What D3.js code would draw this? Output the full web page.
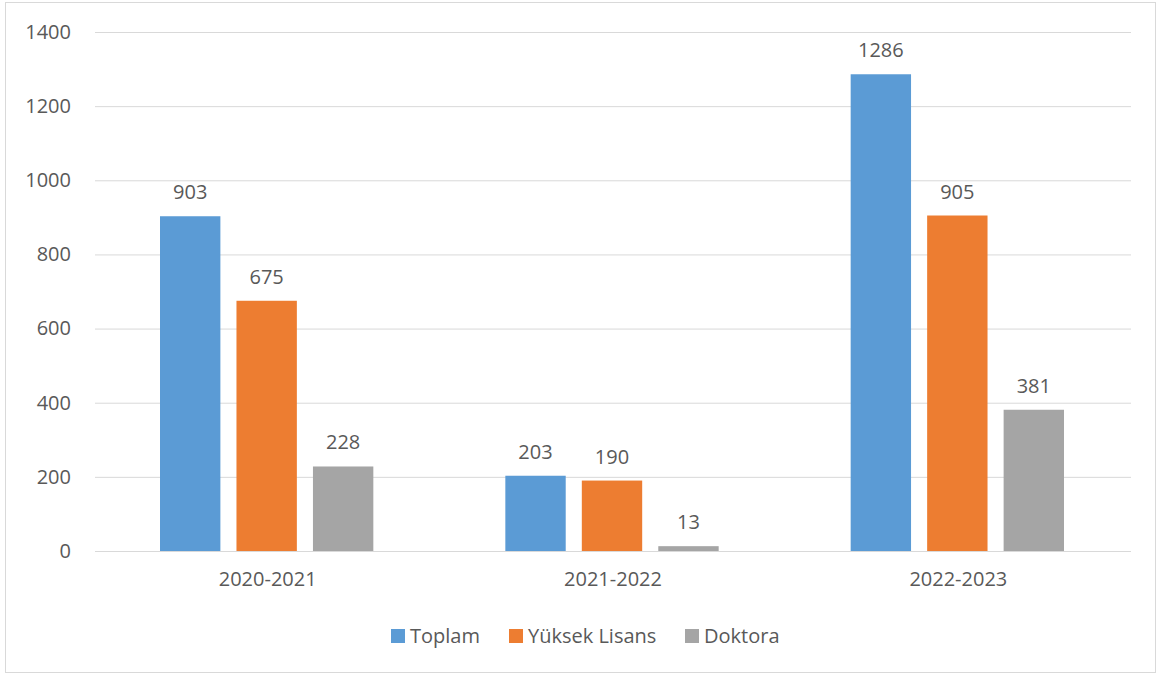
<!DOCTYPE html>
<html>
<head>
<meta charset="utf-8">
<script src="https://cdn.jsdelivr.net/npm/d3@7"></script>
<style>
  body { margin: 0; background: #fff; }
  svg text { font-family: "Open Sans", sans-serif; fill: #595959; }
</style>
</head>
<body>
<svg id="chart" width="1158" height="675"></svg>
<script>
// data
var years = ["2020-2021", "2021-2022", "2022-2023"];
var seriesNames = ["Toplam", "Yüksek Lisans", "Doktora"];
var toplam = [903, 203, 1286];
var yuksekLisans = [675, 190, 905];
var doktora = [228, 13, 381];
var yTicks = [0, 200, 400, 600, 800, 1000, 1200, 1400];

var colors = ["#5B9BD5", "#ED7D31", "#A5A5A5"];
var allSeries = [toplam, yuksekLisans, doktora];

var svg = d3.select("#chart");
var width = 1158, height = 675;
var margin = {left: 95, right: 27, top: 32, bottom: 124};
var fontSize = "20px";

// outer border
svg.append("rect")
    .attr("x", 5.5).attr("y", 2.5)
    .attr("width", 1150).attr("height", 670)
    .attr("fill", "none").attr("stroke", "#D9D9D9");

var xScale = d3.scaleBand().domain(years)
    .range([margin.left, width - margin.right]);
var xInner = d3.scaleBand().domain(seriesNames)
    .range([66, xScale.bandwidth() - 66]).paddingInner(16 / 76);
var yScale = d3.scaleLinear().domain([0, 1400])
    .range([height - margin.bottom, margin.top]);

// gridlines
svg.append("g").selectAll("line").data(yTicks).enter().append("line")
    .attr("x1", margin.left).attr("x2", width - margin.right)
    .attr("y1", function(d){ return yScale(d) + 0.5; })
    .attr("y2", function(d){ return yScale(d) + 0.5; })
    .attr("stroke", "#D9D9D9").attr("stroke-width", 1);

// y axis labels
var yAxis = d3.axisLeft(yScale).tickValues(yTicks).tickFormat(d3.format("d"))
    .tickSize(0).tickPadding(24);
var yg = svg.append("g").attr("transform", "translate(" + margin.left + ",0)").call(yAxis);
yg.select(".domain").remove();
yg.selectAll("text").style("font-size", fontSize).attr("fill", "#595959");

// x axis labels
var xAxis = d3.axisBottom(xScale).tickSize(0).tickPadding(21);
var xg = svg.append("g").attr("transform", "translate(0," + yScale(0) + ")").call(xAxis);
xg.select(".domain").remove();
xg.selectAll("text").style("font-size", fontSize).attr("fill", "#595959");

// bars
allSeries.forEach(function(values, i){
    var g = svg.append("g");
    g.selectAll("rect").data(values).enter().append("rect")
        .attr("x", function(d, j){ return xScale(years[j]) + xInner(seriesNames[i]) - 1; })
        .attr("width", xInner.bandwidth())
        .attr("y", function(d){ return yScale(d); })
        .attr("height", function(d){ return yScale(0) - yScale(d); })
        .attr("fill", colors[i]);

    g.selectAll("text").data(values).enter().append("text")
        .attr("x", function(d, j){ return xScale(years[j]) + xInner(seriesNames[i]) - 1 + xInner.bandwidth() / 2; })
        .attr("y", function(d){ return yScale(d) - 17; })
        .attr("text-anchor", "middle")
        .style("font-size", fontSize)
        .text(function(d){ return d; });
});

// legend
var legendX = [391, 509, 685];
var legend = svg.append("g");
seriesNames.forEach(function(name, i){
    legend.append("rect")
        .attr("x", legendX[i]).attr("y", 629)
        .attr("width", 14).attr("height", 14)
        .attr("fill", colors[i]);
    legend.append("text")
        .attr("x", legendX[i] + 19).attr("y", 636)
        .attr("dy", "0.35em")
        .style("font-size", fontSize)
        .text(name);
});
</script>
</body>
</html>
